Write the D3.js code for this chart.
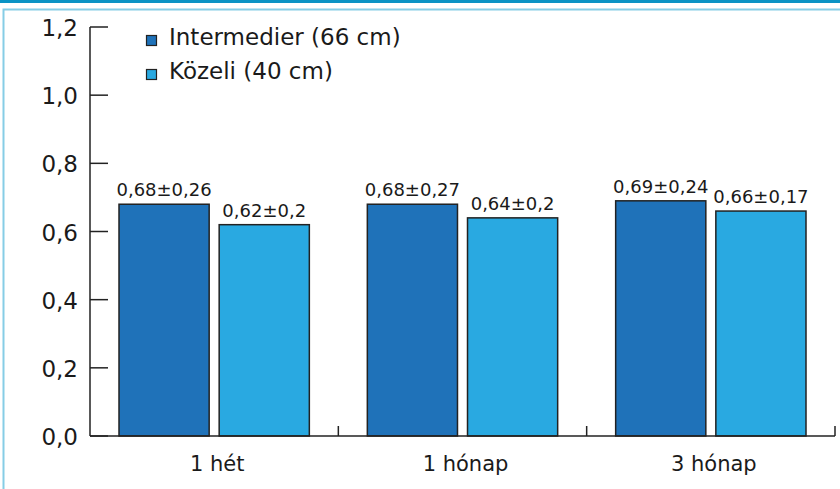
<!DOCTYPE html>
<html>
<head>
<meta charset="utf-8">
<script src="https://cdn.jsdelivr.net/npm/d3@7"></script>
<style>
  html, body { margin: 0; padding: 0; background: #fff; }
  svg { display: block; font-family: 'DejaVu Sans', sans-serif; }
</style>
</head>
<body>
<div id="chart"></div>
<script>
  'use strict';

  // Data
  var categories = ['1 hét', '1 hónap', '3 hónap'];
  var seriesNames = ['Intermedier (66 cm)', 'Közeli (40 cm)'];
  var intermedier = [0.68, 0.68, 0.69];
  var kozeli = [0.62, 0.64, 0.66];
  var intermedierLabels = ['0,68±0,26', '0,68±0,27', '0,69±0,24'];
  var kozeliLabels = ['0,62±0,2', '0,64±0,2', '0,66±0,17'];
  var yTicks = [0, 0.2, 0.4, 0.6, 0.8, 1.0, 1.2];

  var COLORS = ['#1f72b9', '#29a9e1'];

  var W = 840, H = 489;
  var x0 = 90, x1 = 835, yBase = 436, yTop = 27;

  var svg = d3.select('#chart').append('svg')
    .attr('width', W)
    .attr('height', H);

  // Frame decorations
  svg.append('rect')
    .attr('x', 0).attr('y', 0).attr('width', W).attr('height', 3)
    .attr('fill', '#0a93c5');
  svg.append('path')
    .attr('d', 'M' + W + ',9.5H3.5V' + H)
    .attr('fill', 'none')
    .attr('stroke', '#86cde6')
    .attr('stroke-width', 2);

  var x = d3.scaleBand()
    .domain(categories)
    .range([x0, x1])
    .paddingInner(0)
    .paddingOuter(0);

  var xs = d3.scaleBand()
    .domain([0, 1])
    .range([29, x.bandwidth() - 29])
    .paddingInner(0.1);

  var y = d3.scaleLinear()
    .domain([0, 1.2])
    .range([yBase, yTop]);

  var fmt = function (d) { return d3.format('.1f')(d).replace('.', ','); };

  // Y axis
  var yAxis = svg.append('g');
  yAxis.append('line')
    .attr('x1', x0).attr('x2', x0)
    .attr('y1', y(1.2)).attr('y2', yBase)
    .attr('stroke', '#222').attr('stroke-width', 1.5);
  yAxis.selectAll('.ytick')
    .data(yTicks)
    .join('line')
    .attr('class', 'ytick')
    .attr('x1', x0).attr('x2', x0 + 18)
    .attr('y1', function (d) { return y(d); })
    .attr('y2', function (d) { return y(d); })
    .attr('stroke', '#222').attr('stroke-width', 1.5);
  yAxis.selectAll('.ylabel')
    .data(yTicks)
    .join('text')
    .attr('class', 'ylabel')
    .attr('x', 78)
    .attr('y', function (d) { return y(d) + 9; })
    .attr('text-anchor', 'end')
    .attr('font-size', '23px')
    .attr('fill', '#1a1a1a')
    .text(fmt);

  // Bars
  var groups = svg.selectAll('.grp')
    .data(categories)
    .join('g')
    .attr('class', 'grp')
    .attr('transform', function (d) { return 'translate(' + x(d) + ',0)'; });

  var seriesVals = [intermedier, kozeli];
  var seriesLabels = [intermedierLabels, kozeliLabels];

  [0, 1].forEach(function (s) {
    groups.append('rect')
      .attr('x', xs(s))
      .attr('y', function (d, i) { return y(seriesVals[s][i]); })
      .attr('width', xs.bandwidth())
      .attr('height', function (d, i) { return yBase - y(seriesVals[s][i]); })
      .attr('fill', COLORS[s])
      .attr('stroke', '#222')
      .attr('stroke-width', 1.5);

    groups.append('text')
      .attr('x', xs(s) + xs.bandwidth() / 2)
      .attr('y', function (d, i) { return y(seriesVals[s][i]) - 8; })
      .attr('text-anchor', 'middle')
      .attr('font-size', '18px')
      .attr('fill', '#1a1a1a')
      .text(function (d, i) { return seriesLabels[s][i]; });
  });

  // X axis
  var xAxis = svg.append('g');
  xAxis.append('line')
    .attr('x1', x0).attr('x2', x1)
    .attr('y1', yBase).attr('y2', yBase)
    .attr('stroke', '#222').attr('stroke-width', 1.5);
  xAxis.selectAll('.xtick')
    .data(categories)
    .join('line')
    .attr('class', 'xtick')
    .attr('x1', function (d) { return x(d) + x.bandwidth(); })
    .attr('x2', function (d) { return x(d) + x.bandwidth(); })
    .attr('y1', yBase - 10).attr('y2', yBase)
    .attr('stroke', '#222').attr('stroke-width', 1.5);
  xAxis.selectAll('.xlabel')
    .data(categories)
    .join('text')
    .attr('class', 'xlabel')
    .attr('x', function (d) { return x(d) + x.bandwidth() / 2 + 3; })
    .attr('y', 471)
    .attr('text-anchor', 'middle')
    .attr('font-size', '21px')
    .attr('fill', '#1a1a1a')
    .text(function (d) { return d; });

  // Legend
  var legend = svg.append('g');
  seriesNames.forEach(function (name, i) {
    legend.append('rect')
      .attr('x', 146.5).attr('y', 35.5 + i * 34)
      .attr('width', 10).attr('height', 10)
      .attr('fill', COLORS[i])
      .attr('stroke', '#222').attr('stroke-width', 1.2);
    legend.append('text')
      .attr('x', 169).attr('y', 45 + i * 34)
      .attr('font-size', '23px')
      .attr('fill', '#1a1a1a')
      .text(name);
  });
</script>
</body>
</html>
